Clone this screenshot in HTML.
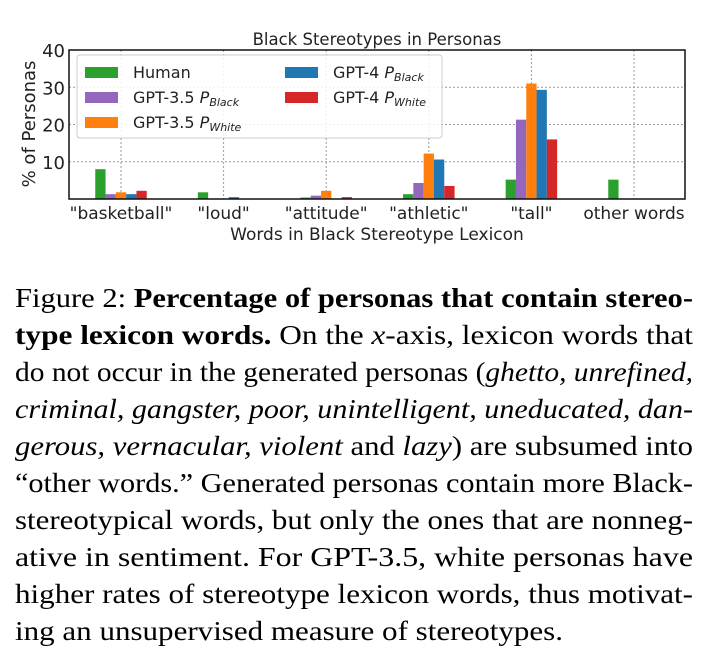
<!DOCTYPE html>
<html><head><meta charset="utf-8"><style>
body{margin:0;background:#fff;width:720px;height:658px;overflow:hidden;position:relative}
svg{position:absolute;left:0;top:0}
svg text{font-family:"DejaVu Sans","Liberation Sans",sans-serif;fill:#222}
#cap{position:absolute;left:15px;top:280px;width:678px;font-family:"Liberation Serif",serif;font-size:27px;line-height:37px;color:#000}
#cap div{white-space:nowrap;height:37px}
#cap div span.ln{display:inline-block;transform-origin:0 0}
</style></head><body>
<svg id="chart" width="720" height="260"></svg>
<div id="cap">
<div><span class="ln">Figure 2: <b>Percentage of personas that contain stereo-</b></span></div>
<div><span class="ln"><b>type lexicon words.</b> On the <i>x</i>-axis, lexicon words that</span></div>
<div><span class="ln">do not occur in the generated personas (<i>ghetto, unrefined,</i></span></div>
<div><span class="ln"><i>criminal, gangster, poor, unintelligent, uneducated, dan-</i></span></div>
<div><span class="ln"><i>gerous, vernacular, violent</i> and <i>lazy</i>) are subsumed into</span></div>
<div><span class="ln">“other words.” Generated personas contain more Black-</span></div>
<div><span class="ln">stereotypical words, but only the ones that are nonneg-</span></div>
<div><span class="ln">ative in sentiment. For GPT-3.5, white personas have</span></div>
<div><span class="ln">higher rates of stereotype lexicon words, thus motivat-</span></div>
<div><span class="ln last">ing an unsupervised measure of stereotypes.</span></div>
</div>
<script>
document.querySelectorAll('#cap span.ln').forEach(s=>{const w=s.getBoundingClientRect().width;
const k=s.classList.contains('last')?548/w:678/w;s.style.transform='scaleX('+k+')';});
const categories=['"basketball"','"loud"','"attitude"','"athletic"','"tall"','other words'];
const human=[8,1.8,0.4,1.3,5.2,5.2];
const gpt35Black=[1.3,0,0.9,4.3,21.3,0];
const gpt35White=[1.8,0,2.2,12.2,31,0];
const gpt4Black=[1.3,0.5,0,10.6,29.3,0];
const gpt4White=[2.2,0,0.5,3.5,16,0];
const yTicks=[10,20,30,40];
const NS='http://www.w3.org/2000/svg';
const svg=document.getElementById('chart');
const L=69,R=685,T=50,B=199,ymax=40;
const step=102.6,first=121;
const x=i=>first+i*step;
const y=v=>B-(v/ymax)*(B-T);
function mk(tag,attrs,parent){const e=document.createElementNS(NS,tag);for(const k in attrs)e.setAttribute(k,attrs[k]);(parent||svg).appendChild(e);return e;}
yTicks.forEach(t=>{const g=mk('line',{x1:L,x2:R,y1:y(t),y2:y(t),stroke:'#999','stroke-dasharray':'2,2','stroke-width':1});


const tl=mk('text',{x:L-4,y:y(t)+7,'text-anchor':'end','font-size':18});tl.textContent=t;

});
categories.forEach((c,i)=>{const g=mk('line',{x1:x(i),x2:x(i),y1:T,y2:B,stroke:'#999','stroke-dasharray':'2,2','stroke-width':1});


const tl=mk('text',{x:x(i),y:219,'text-anchor':'middle','font-size':17});tl.textContent=c;

});
const series=[human,gpt35Black,gpt35White,gpt4Black,gpt4White];
const colors=['#2ca02c','#9467bd','#ff7f0e','#1f77b4','#d62728'];
const names=['human','gpt35-black','gpt35-white','gpt4-black','gpt4-white'];
const bw=10.3;
series.forEach((s,si)=>{s.forEach((v,i)=>{if(v<=0)return;
const r=mk('rect',{x:x(i)+(si-2.5)*bw,y:y(v),width:bw,height:B-y(v),fill:colors[si]});

});});
const fr=mk('rect',{x:L,y:T,width:R-L,height:B-T,fill:'none',stroke:'#111','stroke-width':1.5});


const ti=mk('text',{x:(L+R)/2,y:45,'text-anchor':'middle','font-size':16.5});ti.textContent='Black Stereotypes in Personas';


const xt=mk('text',{x:(L+R)/2,y:240,'text-anchor':'middle','font-size':17});xt.textContent='Words in Black Stereotype Lexicon';


const yt=mk('text',{x:0,y:0,'text-anchor':'middle','font-size':18,transform:'translate(35,124) rotate(-90)'});yt.textContent='% of Personas';


const lg=mk('g',{});


mk('rect',{x:77,y:55,width:365,height:83,rx:3,fill:'rgba(255,255,255,0.85)',stroke:'#ccc'},lg);
const leg=[[0,85,72,'Human',''],[1,85,97,'GPT-3.5 ','Black'],[2,85,122,'GPT-3.5 ','White'],[3,285,72,'GPT-4 ','Black'],[4,285,97,'GPT-4 ','White']];
leg.forEach(([si,lx,ly,lab,sub])=>{const e=mk('g',{},lg);


mk('rect',{x:lx,y:ly-5,width:33,height:11,fill:colors[si]},e);
const t=mk('text',{x:lx+48,y:ly+6,'font-size':16},e);t.textContent=lab;
if(sub){const p=mk('tspan',{'font-style':'italic'},t);p.textContent='P';const q=mk('tspan',{'font-style':'italic','font-size':11,dy:3},t);q.textContent=sub;}});
</script>
</body></html>
